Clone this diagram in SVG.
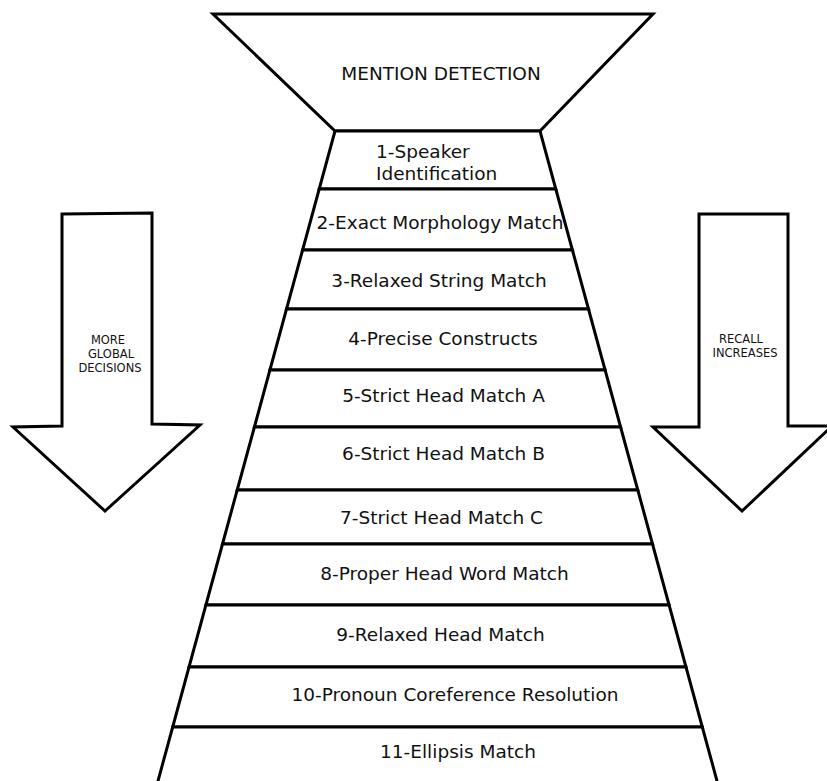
<svg xmlns="http://www.w3.org/2000/svg" width="827" height="781" viewBox="0 0 827 781">
  <style>
    .shape { fill: #ffffff; stroke: #000000; stroke-width: 3; stroke-linejoin: miter; }
    .lbl { font-family: "DejaVu Sans", "Liberation Sans", sans-serif; font-size: 18.5px; fill: #111111; text-anchor: middle; }
    .small { font-family: "DejaVu Sans", "Liberation Sans", sans-serif; font-size: 11.5px; fill: #111111; text-anchor: middle; }
  </style>
  <rect width="827" height="781" fill="#ffffff"/>

  <g id="mention-detection">
    <polygon class="shape" points="213,14 653,14 540,131 335,131"/>
    <text class="lbl" x="441" y="80">MENTION DETECTION</text>
  </g>

  <g id="sieve-1">
    <polygon class="shape" points="335,131 540,131 555.8,189 319.2,189"/>
    <text class="lbl" x="376" y="158" style="text-anchor:start">1-Speaker</text>
    <text class="lbl" x="376" y="180" style="text-anchor:start">Identification</text>
  </g>
  <g id="sieve-2">
    <polygon class="shape" points="319.2,189 555.8,189 572.4,250 302.6,250"/>
    <text class="lbl" x="440" y="229">2-Exact Morphology Match</text>
  </g>
  <g id="sieve-3">
    <polygon class="shape" points="302.6,250 572.4,250 588.5,309 286.5,309"/>
    <text class="lbl" x="439" y="287">3-Relaxed String Match</text>
  </g>
  <g id="sieve-4">
    <polygon class="shape" points="286.5,309 588.5,309 605.1,370 269.9,370"/>
    <text class="lbl" x="443" y="345">4-Precise Constructs</text>
  </g>
  <g id="sieve-5">
    <polygon class="shape" points="269.9,370 605.1,370 620.6,427 254.4,427"/>
    <text class="lbl" x="443.5" y="402">5-Strict Head Match A</text>
  </g>
  <g id="sieve-6">
    <polygon class="shape" points="254.4,427 620.6,427 637.8,490 237.2,490"/>
    <text class="lbl" x="443.5" y="460">6-Strict Head Match B</text>
  </g>
  <g id="sieve-7">
    <polygon class="shape" points="237.2,490 637.8,490 652.5,544 222.5,544"/>
    <text class="lbl" x="441.5" y="524">7-Strict Head Match C</text>
  </g>
  <g id="sieve-8">
    <polygon class="shape" points="222.5,544 652.5,544 669.1,605 205.9,605"/>
    <text class="lbl" x="444.5" y="580">8-Proper Head Word Match</text>
  </g>
  <g id="sieve-9">
    <polygon class="shape" points="205.9,605 669.1,605 686,667 189,667"/>
    <text class="lbl" x="440.5" y="641">9-Relaxed Head Match</text>
  </g>
  <g id="sieve-10">
    <polygon class="shape" points="189,667 686,667 702.3,727 172.7,727"/>
    <text class="lbl" x="455" y="701">10-Pronoun Coreference Resolution</text>
  </g>
  <g id="sieve-11">
    <polygon class="shape" points="172.7,727 702.3,727 719.2,789 155.8,789"/>
    <text class="lbl" x="458" y="758">11-Ellipsis Match</text>
  </g>

  <g id="arrow-global">
    <polygon class="shape" points="62,214 152,213 152,424 200,425 105,511 13,427 62,426"/>
    <text class="small" x="108" y="344">MORE</text>
    <text class="small" x="111" y="358">GLOBAL</text>
    <text class="small" x="110" y="372">DECISIONS</text>
  </g>

  <g id="arrow-recall">
    <polygon class="shape" points="699,214 788,214 788,426 832,426 742,511 653,427 699,427"/>
    <text class="small" x="741" y="343">RECALL</text>
    <text class="small" x="745" y="357">INCREASES</text>
  </g>

  <g id="connectors"></g>
</svg>
